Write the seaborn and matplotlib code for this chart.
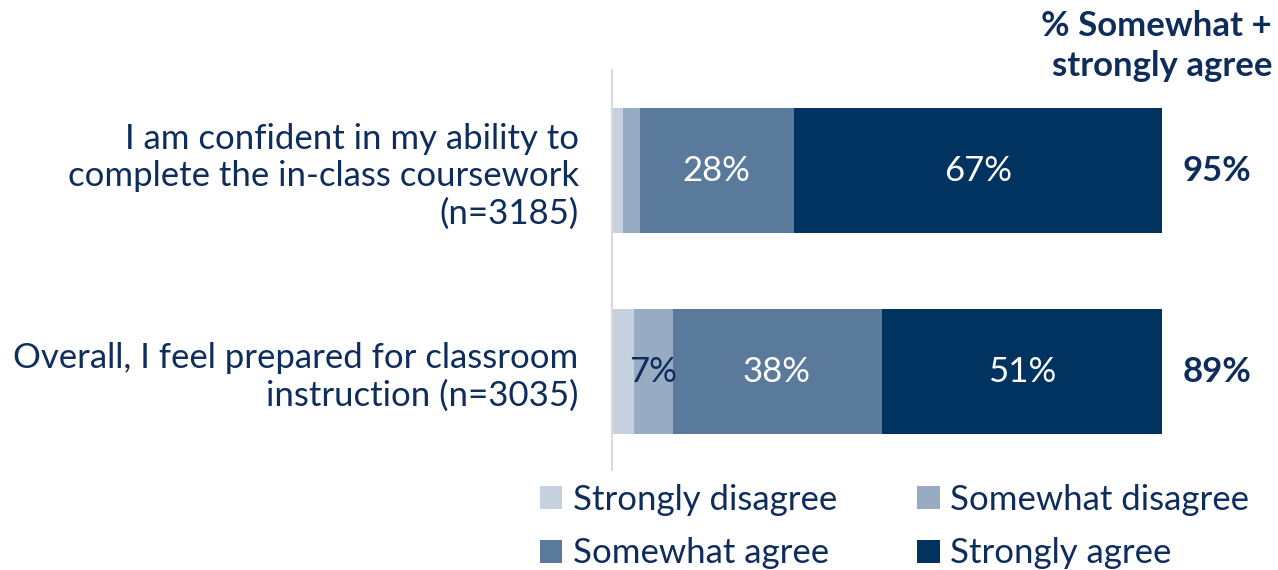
import matplotlib
matplotlib.use('Agg')
import matplotlib.pyplot as plt
import seaborn as sns
import pandas as pd
from matplotlib.patches import Patch

# --- data ---
questions = ['I am confident in my ability to\ncomplete the in-class coursework\n(n=3185)',
             'Overall, I feel prepared for classroom\ninstruction (n=3035)']
levels = ['Strongly disagree', 'Somewhat disagree', 'Somewhat agree', 'Strongly agree']
strongly_disagree = [2, 4]
somewhat_disagree = [3, 7]
somewhat_agree = [28, 38]
strongly_agree = [67, 51]
agree_total = ['95%', '89%']

colors = ['#c5d1de', '#97abc2', '#5a7a9b', '#00335f']
label_colors = ['#0e2d5c', '#0e2d5c', 'white', 'white']
navy = '#0e2d5c'
fs = 25

sns.set_style('white')
plt.rcParams['font.family'] = ['Lato', 'DejaVu Sans']

df = pd.DataFrame({'question': questions,
                   levels[0]: strongly_disagree,
                   levels[1]: somewhat_disagree,
                   levels[2]: somewhat_agree,
                   levels[3]: strongly_agree})
cum = df[levels].cumsum(axis=1)

fig = plt.figure(figsize=(12.78, 5.70), dpi=100)
ax = fig.add_axes([612 / 1278, 100 / 570, 550 / 1278, 400 / 570])

# stacked bars: draw the cumulative totals from the outermost segment inward
for i in range(len(levels) - 1, -1, -1):
    sns.barplot(x=cum[levels[i]], y=df['question'], color=colors[i], orient='h',
                width=0.62, ax=ax, saturation=1, linewidth=0)

# segment labels (small segments left unlabelled, as in the original)
for r in range(len(questions)):
    for i, lev in enumerate(levels):
        val = df.loc[r, lev]
        if val < 5:
            continue
        center = cum.loc[r, lev] - val / 2
        ax.text(center, r, f'{val}%', ha='center', va='center',
                color=label_colors[i], fontsize=fs)
    ax.text(110, r, agree_total[r], ha='center', va='center', color=navy,
            fontsize=fs, fontweight='bold', clip_on=False)

ax.set_xlim(0, 100)
ax.set_ylim(1.49, -0.5)
ax.set_xticks([])
ax.set_xlabel('')
ax.set_ylabel('')
ax.tick_params(axis='y', length=0, pad=24, labelsize=fs, labelcolor=navy)
for s in ['top', 'right', 'bottom']:
    ax.spines[s].set_visible(False)
ax.spines['left'].set_color('#d9d9d9')
ax.spines['left'].set_linewidth(1.5)

fig.text(1272 / 1278, 1 - 46 / 570, '% Somewhat +\nstrongly agree', ha='right', va='center',
         color=navy, fontsize=fs, fontweight='bold', linespacing=1.3)

# legend fills row by row in the original: reorder for matplotlib's column fill
order = [0, 2, 1, 3]
handles = [Patch(facecolor=colors[k], edgecolor='none') for k in order]
fig.legend(handles, [levels[k] for k in order], loc='upper left',
           bbox_to_anchor=(526 / 1278, 1 - 470 / 570),
           ncol=2, frameon=False, fontsize=fs, labelcolor=navy,
           handlelength=0.65, handleheight=0.65, handletextpad=0.3,
           columnspacing=2.3, labelspacing=0.62, borderaxespad=0)

fig.savefig('out.png', dpi=100)
